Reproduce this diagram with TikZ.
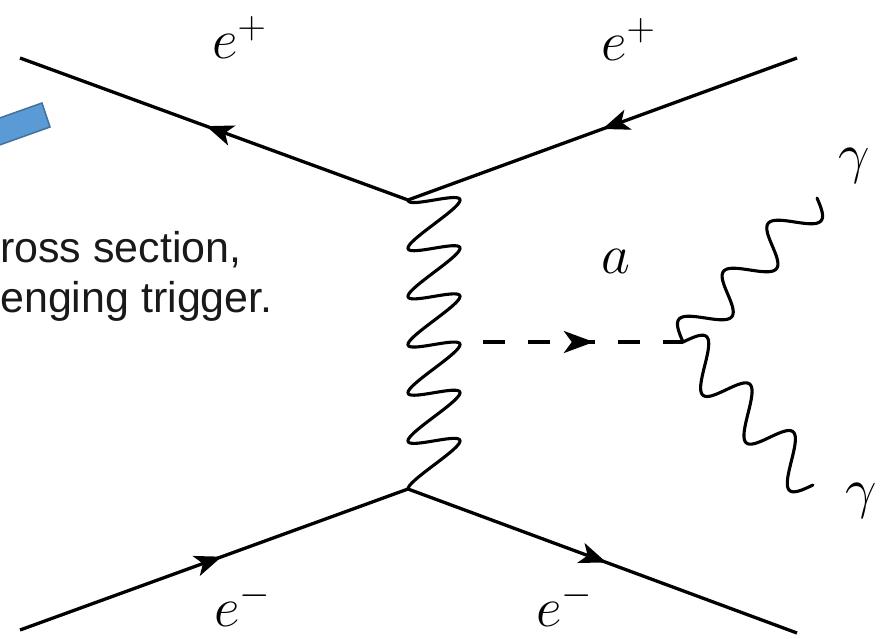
\RequirePackage{fix-cm}
\documentclass[tikz,border=0pt]{standalone}
\usepackage{fontspec}
\newfontfamily\slidefont{Liberation Sans}
\usetikzlibrary{arrows.meta,decorations.markings,calc}
% wavy photon: start, end, canvas offset x, canvas offset y, profile in \t
\newcommand\photonwave[5]{%
  \draw[photon] let \p1=(#1), \p2=(#2) in
    plot[variable=\t, domain=0:1, samples=361, smooth]
    ({\x1+\t*(\x2-\x1)+(#3)*(#5)}, {\y1+\t*(\y2-\y1)+(#4)*(#5)});}
\definecolor{shapefill}{RGB}{91,155,213}
\definecolor{shapeedge}{RGB}{65,113,156}
\begin{document}
\begin{tikzpicture}[x=1pt,y=-1pt,
  fermion/.style={line width=3.3pt, postaction={decorate},
    decoration={markings, mark=at position #1 with {\arrow{Stealth[length=27pt,width=21pt,inset=7pt]}}}},
  fermion/.default=0.52,
  photon/.style={line width=3.1pt, line join=round, line cap=round},
  scalar/.style={line width=3.1pt, dash pattern=on 22pt off 23pt, dash phase=22pt, postaction={decorate},
    decoration={markings, mark=at position 0.6 with {\arrow{Stealth[length=30pt,width=22pt,inset=8pt]}}}},
  lbl/.style={anchor=base west, inner sep=0pt, font=\fontsize{56}{60}\selectfont},
  slide/.style={anchor=base west, inner sep=0pt, font=\slidefont\fontsize{43}{50}\selectfont, text=black!90}
]
\fill[white] (0,0) rectangle (893,639);
\useasboundingbox (0,0) rectangle (893,639);

% blue shape (partly off the left edge)
\filldraw[fill=shapefill, draw=shapeedge, line width=1.5pt]
  (-6,120) -- (42,103) -- (50,127) -- (-6,147) -- cycle;

% slide text, cut at the left edge
\node[slide] (t1) at (0,262) {ross section,};
\node[slide] (t2) at (0,312) {enging trigger.};

% vertices and end points
\coordinate (v1) at (408,200);
\coordinate (v2) at (408,489);
\coordinate (tl) at (20,58);
\coordinate (tr) at (797,58);
\coordinate (bl) at (20,630);
\coordinate (br) at (797,633);
\coordinate (w)  at (460,342);
\coordinate (v3) at (683,342);
\coordinate (g1) at (817,198);
\coordinate (g2) at (813,485);

% fermion lines
\draw[fermion] (v1) -- (tl);
\draw[fermion=0.5] (tr) -- (v1);
\draw[fermion] (bl) -- (v2);
\draw[fermion=0.51] (v2) -- (br);

% photons
\photonwave{v1}{v2}{26pt}{12pt}{1-cos(2160*\t)}
\photonwave{v3}{g1}{-15pt}{11pt}{sin(1080*\t)}
\photonwave{v3}{g2}{13pt}{17pt}{sin(1080*\t)}

% axion (dashed)
\draw[scalar] (w) -- (v3);

% labels
\node[lbl] (l1) at (212,59) {$e^+$};
\node[lbl] (l2) at (601,61) {$e^+$};
\node[lbl] (l3) at (214,626) {$e^-$};
\node[lbl] (l4) at (536,626) {$e^-$};
\node[lbl] (la) at (601,273) {$a$};
\node[lbl] (lg1) at (838,172) {$\gamma$};
\node[lbl] (lg2) at (845,507) {$\gamma$};
\end{tikzpicture}
\end{document}
